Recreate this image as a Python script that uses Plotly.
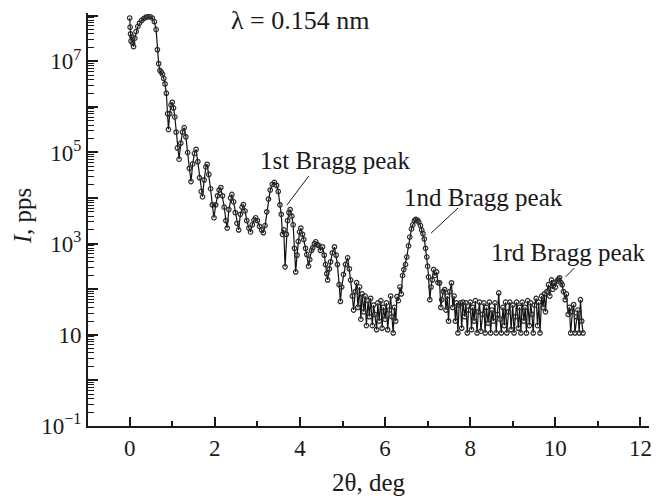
import plotly.graph_objects as go

two_theta = [
    0.00, 0.01, 0.02, 0.03, 0.05, 0.07, 0.09, 0.12, 0.15, 0.19, 0.23, 0.28, 0.33, 0.38, 0.43, 0.48,
    0.53, 0.58, 0.62, 0.65, 0.68, 0.71, 0.74, 0.77, 0.80, 0.83, 0.86, 0.89, 0.91, 0.94, 0.97, 1.00,
    1.03, 1.06, 1.09, 1.12, 1.16, 1.20, 1.24, 1.28, 1.32, 1.36, 1.40, 1.44, 1.48, 1.52, 1.56, 1.60,
    1.64, 1.68, 1.71, 1.75, 1.79, 1.82, 1.86, 1.90, 1.94, 1.98, 2.02, 2.06, 2.10, 2.14, 2.18, 2.22,
    2.26, 2.29, 2.33, 2.37, 2.40, 2.44, 2.48, 2.52, 2.56, 2.60, 2.64, 2.67, 2.71, 2.75, 2.80, 2.84,
    2.88, 2.92, 2.96, 3.00, 3.05, 3.10, 3.14, 3.18, 3.22, 3.26, 3.30, 3.35, 3.40, 3.45, 3.49, 3.53,
    3.56, 3.59, 3.62, 3.65, 3.68, 3.71, 3.74, 3.77, 3.81, 3.84, 3.87, 3.90, 3.93, 3.96, 3.99, 4.02,
    4.06, 4.09, 4.13, 4.16, 4.20, 4.23, 4.27, 4.30, 4.34, 4.37, 4.41, 4.44, 4.48, 4.53, 4.57, 4.60,
    4.63, 4.65, 4.69, 4.72, 4.76, 4.81, 4.85, 4.88, 4.92, 4.95, 4.98, 5.02, 5.07, 5.12, 5.16, 5.19,
    5.23, 5.26, 5.30, 5.33, 5.36, 5.40, 5.43, 5.46, 5.50, 5.53, 5.56, 5.60, 5.63, 5.66, 5.70, 5.73,
    5.76, 5.80, 5.83, 5.86, 5.90, 5.93, 5.96, 6.00, 6.03, 6.06, 6.10, 6.13, 6.16, 6.19, 6.22, 6.25,
    6.28, 6.31, 6.35, 6.38, 6.41, 6.44, 6.48, 6.51, 6.55, 6.58, 6.62, 6.65, 6.69, 6.72, 6.76, 6.79,
    6.83, 6.86, 6.89, 6.92, 6.95, 6.98, 7.00, 7.02, 7.05, 7.08, 7.11, 7.14, 7.17, 7.21, 7.24, 7.28,
    7.31, 7.33, 7.37, 7.40, 7.43, 7.46, 7.49, 7.52, 7.56, 7.59, 7.62, 7.65, 7.68, 7.71, 7.74, 7.77,
    7.80, 7.83, 7.87, 7.90, 7.93, 7.96, 8.00, 8.03, 8.06, 8.09, 8.12, 8.16, 8.19, 8.22, 8.25, 8.29,
    8.32, 8.35, 8.38, 8.42, 8.45, 8.48, 8.51, 8.54, 8.58, 8.61, 8.64, 8.67, 8.70, 8.73, 8.77, 8.80,
    8.83, 8.86, 8.90, 8.93, 8.96, 9.00, 9.03, 9.06, 9.09, 9.13, 9.16, 9.19, 9.22, 9.26, 9.29, 9.32,
    9.35, 9.39, 9.42, 9.45, 9.48, 9.51, 9.55, 9.58, 9.61, 9.64, 9.68, 9.71, 9.74, 9.77, 9.80, 9.84,
    9.87, 9.91, 9.94, 9.97, 10.00, 10.04, 10.07, 10.10, 10.13, 10.16, 10.19, 10.23, 10.26, 10.30,
    10.33, 10.36, 10.40, 10.43, 10.46, 10.50, 10.53, 10.56, 10.59, 10.62, 10.65,
]

intensity = [
    8.9e7, 5.6e7, 4.0e7, 2.8e7, 3.5e7, 2.5e7, 2.1e7, 3.2e7, 4.5e7, 5.8e7, 6.9e7, 7.9e7, 8.7e7, 9.3e7, 9.5e7, 9.5e7,
    8.9e7, 7.4e7, 5.0e7, 1.8e7, 8.9e6, 6.3e6, 5.8e6, 5.2e6, 4.2e6, 3.2e6, 2.0e6, 7.1e5, 3.2e5, 7.1e5, 1.1e6, 1.26e6,
    9.5e5, 6.0e5, 2.8e5, 1.26e5, 7.1e4, 1.6e5, 2.8e5, 3.5e5, 2.2e5, 1.0e5, 4.5e4, 2.3e4, 5.6e4, 9.5e4, 1.17e5, 6.3e4,
    2.8e4, 1.4e4, 1.07e4, 2.5e4, 4.8e4, 5.5e4, 3.3e4, 1.6e4, 7.1e3, 3.7e3, 7.1e3, 1.12e4, 1.5e4, 1.7e4, 1.12e4, 6.3e3,
    3.2e3, 2.2e3, 5.6e3, 1.0e4, 1.2e4, 8.3e3, 4.8e3, 2.8e3, 2.0e3, 4.4e3, 6.3e3, 7.2e3, 5.2e3, 3.2e3, 2.2e3, 1.8e3,
    2.6e3, 3.3e3, 3.7e3, 3.2e3, 2.4e3, 2.0e3, 1.74e3, 2.5e3, 5.0e3, 9.5e3, 1.5e4, 2.0e4, 2.2e4, 1.9e4, 1.4e4, 7.1e3,
    4.4e3, 1.6e3, 2.0e3, 3.1e2, 1.6e3, 3.2e3, 4.8e3, 5.6e3, 4.0e3, 2.6e3, 7.9e2, 2.4e2, 5.6e2, 1.12e3, 1.8e3, 2.2e3,
    1.6e3, 1.23e3, 7.9e2, 5.8e2, 3.2e2, 4.5e2, 7.1e2, 8.1e2, 1.0e3, 1.1e3, 9.5e2, 9.1e2, 7.1e2, 8.5e2, 5.6e2, 3.5e2,
    2.2e2, 1.6e2, 2.8e2, 4.0e2, 6.3e2, 8.5e2, 5.6e2, 3.5e2, 1.26e2, 54, 1.12e2, 2.1e2, 3.5e2, 4.9e2, 2.8e2, 1.6e2,
    71, 35, 89, 1.4e2, 40, 1.12e2, 22, 79, 32, 71, 16, 56, 25, 63, 16, 45,
    28, 13, 50, 20, 56, 14, 40, 22, 50, 13, 35, 71, 25, 11, 40, 20,
    69, 56, 1.12e2, 79, 2.0e2, 2.7e2, 3.5e2, 5.1e2, 8.9e2, 1.4e3, 2.1e3, 2.6e3, 3.2e3, 3.4e3, 3.3e3, 3.0e3,
    2.5e3, 2.0e3, 1.66e3, 1.26e3, 7.9e2, 5.1e2, 3.2e2, 1.86e2, 59, 1.12e2, 1.6e2, 2.7e2, 2.0e2, 2.4e2, 1.4e2, 1.38e2,
    40, 59, 89, 98, 35, 71, 20, 89, 1.38e2, 40, 71, 20, 50, 11, 45, 50,
    14, 52, 25, 50, 11, 35, 52, 13, 40, 20, 56, 11, 32, 52, 12, 28,
    50, 11, 40, 18, 52, 11, 35, 20, 50, 11, 28, 83, 22, 11, 40, 16,
    52, 11, 32, 52, 13, 45, 11, 25, 52, 14, 40, 11, 52, 20, 40, 11,
    56, 16, 50, 28, 11, 45, 63, 16, 52, 11, 71, 40, 79, 32, 89, 1.26e2,
    71, 1.6e2, 1.0e2, 1.4e2, 1.12e2, 1.5e2, 1.66e2, 1.78e2, 1.4e2, 1.26e2, 89, 59, 79, 28,
    40, 11, 32, 46, 11, 25, 35, 11, 59, 20, 11,
]

y_tick_vals = [1e-1, 1, 10, 1e2, 1e3, 1e4, 1e5, 1e6, 1e7, 1e8]
y_tick_text = ["10<sup>\u22121</sup>", "", "10", "", "10<sup>3</sup>", "", "10<sup>5</sup>", "", "10<sup>7</sup>", ""]
x_tick_vals = [0, 2, 4, 6, 8, 10, 12]

FONT = "Liberation Serif, Times New Roman, serif"
INK = "#1a1a1a"

fig = go.Figure()
fig.add_trace(go.Scatter(
    x=two_theta, y=intensity, mode="lines+markers",
    line=dict(color="#111111", width=1.2),
    marker=dict(symbol="circle-open", size=4.5, color="#2a2a2a", line=dict(width=1.2, color="#222222")),
    showlegend=False, hoverinfo="skip",
))

# figure fills the whole page (body margin removed below)
W, H = 659, 496
L, T = 88, 13
pw, ph = 564, 413
R, B = W - L - pw, H - T - ph

def px(xp):
    return (xp - L) / pw

def py(yp):
    return (T + ph - yp) / ph

fig.update_layout(
    width=W, height=H,
    margin=dict(l=L, r=R, t=T, b=B),
    paper_bgcolor="white", plot_bgcolor="white",
    font=dict(family=FONT, size=22, color=INK),
    xaxis=dict(
        range=[-0.98, 12.2], tickvals=x_tick_vals, ticks="inside", ticklen=9, tickwidth=1.5,
        tickcolor=INK, showline=True, linewidth=2, linecolor=INK, showgrid=False, zeroline=False,
        minor=dict(tickvals=[1, 3, 5, 7, 9, 11], ticks="inside", ticklen=5, tickwidth=1.5, tickcolor=INK, showgrid=False),
        tickfont=dict(size=23, family=FONT, color=INK),
    ),
    yaxis=dict(
        type="log", range=[-1, 8.06], tickvals=y_tick_vals, ticktext=y_tick_text,
        ticks="inside", ticklen=10, tickwidth=1.5, tickcolor=INK,
        showline=True, linewidth=2, linecolor=INK, showgrid=False, zeroline=False,
        minor=dict(dtick="D1", ticks="inside", ticklen=6, tickwidth=1.2, tickcolor=INK, showgrid=False),
        tickfont=dict(size=23, family=FONT, color=INK),
    ),
)

annots = [
    dict(text="\u03bb = 0.154 nm", x=px(302), y=py(21), size=26),
    dict(text="1st Bragg peak", x=px(336), y=py(160), size=25),
    dict(text="1nd Bragg peak", x=px(486), y=py(197), size=25),
    dict(text="1rd Bragg peak", x=px(571), y=py(252), size=25),
    dict(text="2\u03b8, deg", x=px(370), y=py(482), size=25),
]
for a in annots:
    fig.add_annotation(text=a["text"], x=a["x"], y=a["y"], xref="paper", yref="paper",
                       showarrow=False, xanchor="center", yanchor="middle",
                       font=dict(family=FONT, size=a["size"], color=INK))

fig.add_annotation(text="<i>I</i>, pps", x=px(22), y=py(216), xref="paper", yref="paper",
                   showarrow=False, textangle=-90, xanchor="center", yanchor="middle",
                   font=dict(family=FONT, size=25, color=INK))

for (x0, y0, x1, y1) in [(310, 176, 288, 205), (460, 208, 433, 233), (577, 268, 568, 277)]:
    fig.add_shape(type="line", xref="paper", yref="paper",
                  x0=px(x0), y0=py(y0), x1=px(x1), y1=py(y1),
                  line=dict(color=INK, width=1))

fig.write_html("out.html", config={"displayModeBar": False, "responsive": False},
               post_script="document.body.style.margin='0px';document.body.style.overflow='hidden';")
